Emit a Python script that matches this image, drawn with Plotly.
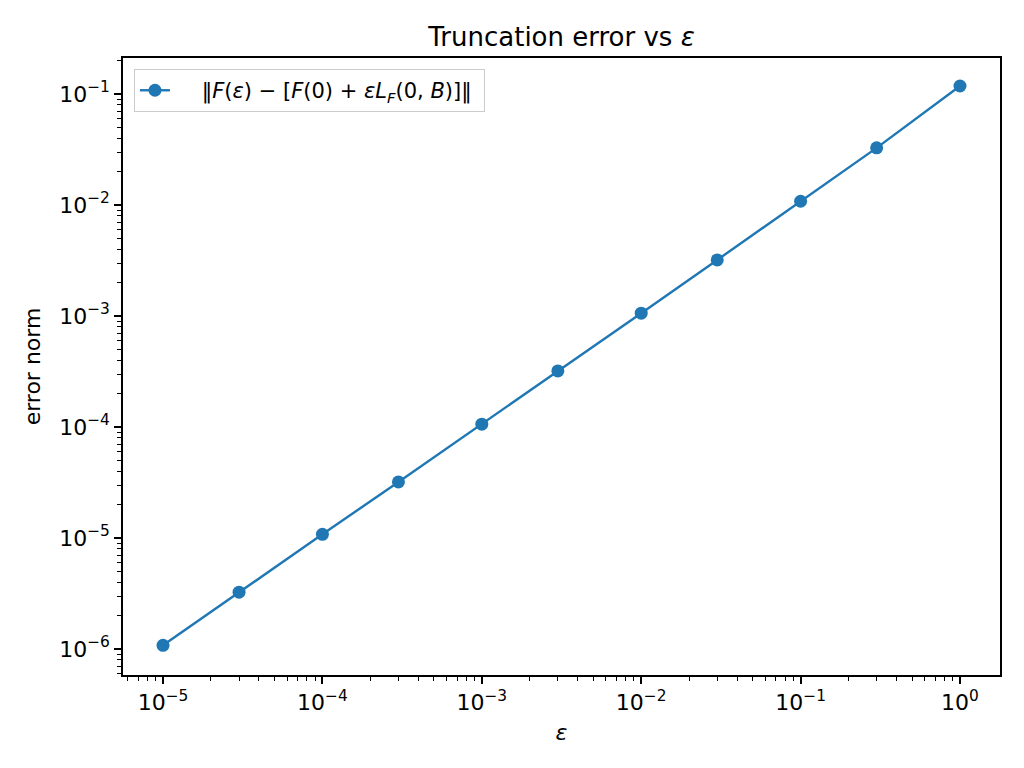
import plotly.graph_objects as go

# Data
eps = [1e-5, 3e-5, 1e-4, 3e-4, 1e-3, 3e-3, 1e-2, 3e-2, 1e-1, 3e-1, 1.0]
err = [1.08e-6, 3.25e-6, 1.08e-5, 3.2e-5, 1.06e-4, 3.2e-4, 1.06e-3, 3.2e-3, 1.08e-2, 3.27e-2, 0.118]

x_tickvals = [1e-5, 1e-4, 1e-3, 1e-2, 1e-1, 1e0]
x_ticktext = ["10<sup>−5</sup>", "10<sup>−4</sup>", "10<sup>−3</sup>", "10<sup>−2</sup>", "10<sup>−1</sup>", "10<sup>0</sup>"]
y_tickvals = [1e-6, 1e-5, 1e-4, 1e-3, 1e-2, 1e-1]
y_ticktext = ["10<sup>−6</sup>", "10<sup>−5</sup>", "10<sup>−4</sup>", "10<sup>−3</sup>", "10<sup>−2</sup>", "10<sup>−1</sup>"]

series_name = ("\u00a0\u00a0\u00a0\u00a0‖<i>F</i>(<i>ε</i>) − [<i>F</i>(0) + <i>εL</i><sub><i>F</i></sub>(0, <i>B</i>)]‖\u00a0")

def minor_vals(lo, hi):
    out = []
    for k in range(lo, hi + 1):
        for m in range(2, 10):
            out.append(m * 10.0 ** k)
    return out

FONT = "DejaVu Sans"
BLUE = "#1f77b4"

fig = go.Figure()
fig.add_trace(go.Scatter(
    x=eps, y=err, mode="lines+markers", name=series_name,
    line=dict(color=BLUE, width=2.4),
    marker=dict(color=BLUE, size=13),
    showlegend=True,
))

axis_common = dict(
    type="log", showgrid=False, zeroline=False,
    showline=True, mirror=True, linecolor="black", linewidth=1.5,
    ticks="outside", ticklen=7, tickwidth=1.5, tickcolor="black",
    tickfont=dict(family=FONT, size=22, color="black"),
)

fig.update_xaxes(
    **axis_common,
    range=[-5.251, 0.251],
    tickmode="array", tickvals=x_tickvals, ticktext=x_ticktext,
    minor=dict(tickmode="array", tickvals=minor_vals(-6, 0), ticks="outside",
               ticklen=4, tickwidth=1, tickcolor="black", showgrid=False),
    title=dict(text="<i>ε</i>", font=dict(family=FONT, size=22, color="black"), standoff=10),
)
fig.update_yaxes(
    **axis_common,
    range=[-6.234, -0.676],
    tickmode="array", tickvals=y_tickvals, ticktext=y_ticktext,
    minor=dict(tickmode="array", tickvals=minor_vals(-7, 0), ticks="outside",
               ticklen=4, tickwidth=1, tickcolor="black", showgrid=False),
    title=dict(text="error norm", font=dict(family=FONT, size=22, color="black"), standoff=12),
)

# page body has an 8px offset, so margins are reduced accordingly
fig.update_layout(
    width=1024, height=768,
    margin=dict(l=115, r=32, t=50, b=101),
    paper_bgcolor="white", plot_bgcolor="white",
    font=dict(family=FONT, size=22, color="black"),
    title=dict(text="Truncation error vs <i>ε</i>", x=(561.5 - 8) / 1024, xanchor="center",
               y=1 - 29 / 768, yanchor="middle", font=dict(family=FONT, size=26, color="black")),
    legend=dict(x=0.0125, y=0.982, xanchor="left", yanchor="top",
                bgcolor="rgba(255,255,255,0.8)", bordercolor="#cccccc", borderwidth=1,
                font=dict(family=FONT, size=21, color="black")),
)

fig.write_html("out.html")
